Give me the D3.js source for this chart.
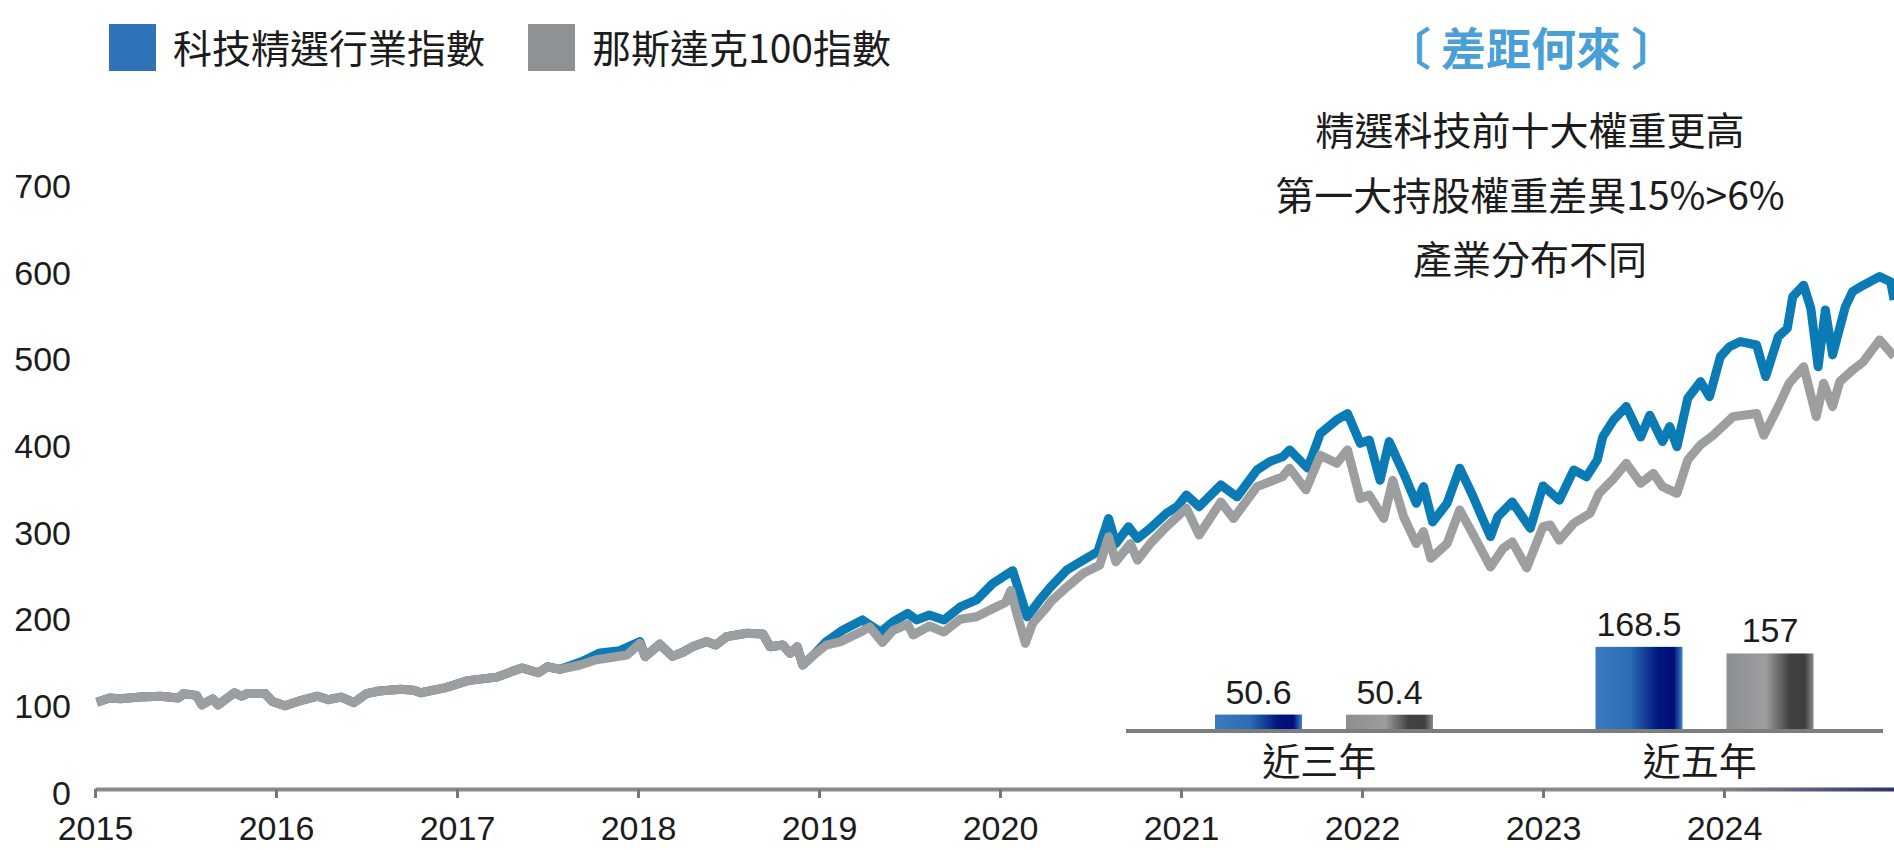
<!DOCTYPE html>
<html>
<head>
<meta charset="utf-8">
<script src="https://cdn.jsdelivr.net/npm/d3@7"></script>
<style>
  body { margin: 0; background: #fff; }
  svg { display: block; }
  text { font-family: "Liberation Sans", Arial, sans-serif; fill: #1c1c1c; }
  .cjk { font-family: "Noto Sans CJK TC", "Noto Sans CJK SC", sans-serif; }
</style>
</head>
<body>
<div id="chart"></div>
<script>
const width = 1894;
const height = 850;
const margin = ({top: 182, right: 0, bottom: 61, left: 95});

// 那斯達克100指數 (gray)
const ndxDates = [2015.01,2015.08,2015.14,2015.25,2015.36,2015.46,2015.49,2015.56,2015.59,2015.65,2015.68,2015.77,2015.81,2015.84,2015.94,2015.98,
  2016.05,2016.12,2016.23,2016.29,2016.36,2016.43,2016.50,2016.57,2016.69,2016.76,2016.80,2016.87,2016.94,
  2017.06,2017.22,2017.31,2017.36,2017.45,2017.50,2017.57,2017.68,2017.77,2017.94,
  2018.01,2018.04,2018.12,2018.19,2018.25,2018.30,2018.38,2018.43,2018.49,2018.60,2018.69,2018.73,2018.80,2018.84,2018.88,2018.91,2018.97,
  2019.04,2019.12,2019.23,2019.28,2019.35,2019.41,2019.49,2019.52,2019.61,2019.69,2019.78,2019.87,2019.96,
  2020.03,2020.06,2020.09,2020.14,2020.18,2020.26,2020.28,2020.37,2020.46,2020.55,2020.60,2020.64,2020.72,2020.76,2020.83,2020.92,
  2021.03,2021.10,2021.22,2021.29,2021.42,2021.56,2021.60,2021.69,2021.77,2021.86,2021.92,2021.99,
  2022.04,2022.12,2022.17,2022.23,2022.30,2022.34,2022.38,2022.47,2022.54,2022.61,2022.71,2022.78,2022.83,2022.91,
  2023.00,2023.04,2023.09,2023.17,2023.26,2023.31,2023.39,2023.46,2023.54,2023.61,2023.66,2023.74,2023.80,2023.87,2023.94,
  2024.05,2024.18,2024.22,2024.30,2024.36,2024.44,2024.51,2024.55,2024.60,2024.64,2024.71,2024.77,2024.86,2024.94];
const ndxValues = [100,105,104,106,107,105,110,108,97,104,97,111,107,110,110,101,
  96,101,107,103,106,99.5,110,113,115,114,111,114,117,
  125,129,136,139.5,134,141,138,143,149,154.5,
  168,152.6,167,153,158,164,170,166,175.7,179.6,178.8,164,166,156.5,164,143,154.5,
  166,170,181,187,169,183,190,177.6,188,181,195.7,198.7,208,
  215,229,204.5,168,191,210,216,233,248.8,258,291,262,283,264,283,302.5,
  323.7,293,331,312,348.7,360,370,345,385,375.6,391,335,
  339,312,356,314,283,296.8,266,283,321.8,295,256,277.6,285,255,
  302.5,304.5,287,306.5,318,341,358,375.6,352.6,364,348.7,341,379.5,396.8,408,
  429.4,433,408,441,468,487,429.4,468,441,469.8,483,492.8,517.9,498.6];

// 科技精選行業指數 (blue)
const techDates = [2015.01,2015.08,2015.14,2015.25,2015.36,2015.46,2015.49,2015.56,2015.59,2015.65,2015.68,2015.77,2015.81,2015.84,2015.94,2015.98,
  2016.05,2016.12,2016.23,2016.29,2016.36,2016.43,2016.50,2016.57,2016.69,2016.76,2016.80,2016.87,2016.94,
  2017.06,2017.22,2017.31,2017.36,2017.45,2017.50,2017.57,2017.69,2017.79,2017.90,
  2018.01,2018.04,2018.12,2018.19,2018.25,2018.30,2018.38,2018.43,2018.49,2018.60,2018.69,2018.73,2018.80,2018.84,2018.88,2018.91,2018.97,
  2019.04,2019.13,2019.24,2019.34,2019.41,2019.49,2019.54,2019.61,2019.69,2019.78,2019.87,2019.96,
  2020.07,2020.15,2020.22,2020.28,2020.37,2020.46,2020.54,2020.60,2020.64,2020.71,2020.76,2020.83,2020.92,2020.98,
  2021.03,2021.10,2021.22,2021.31,2021.42,2021.49,2021.56,2021.60,2021.70,2021.77,2021.86,2021.92,2021.99,
  2022.04,2022.10,2022.15,2022.23,2022.30,2022.34,2022.39,2022.47,2022.54,2022.61,2022.67,2022.71,2022.75,2022.83,2022.93,
  2023.00,2023.09,2023.17,2023.24,2023.30,2023.33,2023.39,2023.46,2023.54,2023.59,2023.66,2023.70,2023.74,2023.80,2023.87,2023.92,2023.98,
  2024.03,2024.09,2024.18,2024.23,2024.30,2024.35,2024.38,2024.44,2024.48,2024.52,2024.56,2024.60,2024.67,2024.71,2024.77,2024.86,2024.92,2024.94];
const techValues = [100,105,104,106,107,105,110,108,97,104,97,111,107,110,110,101,
  96,101,107,103,106,99.5,110,113,115,114,111,114,117,
  125,129,136,139.5,134,141,138,147,157,159.5,
  170,152.6,167,153,158,164,170,166,175.7,179.6,178.8,164,166,156.5,164,143,154.5,
  170,183,195,181,193,202.6,195,200.7,195,210,218,237,
  251.8,198.7,218,233,252.6,264,273.7,312,283,302.5,289,300.7,318,326,
  339,325.6,350.6,337,368,377.5,383,391,370,410,425.6,433,398.7,
  402.5,356,400.6,364,329.5,348.7,308,329.5,370,339,310,291,314,331,300.7,
  349.5,333,368,360,379.5,406,425.6,441,406,431,400.6,418,394.8,450.6,469.8,452.5,498.6,
  510,516,512,475.6,521.7,531.4,567.8,581,554,487,552.5,500.6,556,573.6,581,590.9,585,564];

const years = [2015,2016,2017,2018,2019,2020,2021,2022,2023,2024];
const yTicks = [0,100,200,300,400,500,600,700];

const legendLabels = ["科技精選行業指數", "那斯達克100指數"];
const noteTitle = "〔 差距何來 〕";
const noteLines = ["精選科技前十大權重更高", "第一大持股權重差異15%>6%", "產業分布不同"];

// 累積報酬 inset
const periods = ["近三年", "近五年"];
const techReturns = [50.6, 168.5];
const ndxReturns = [50.4, 157];

const techColor = "#0b7bb6";
const ndxColor = "#9c9ea0";

const svg = d3.select("#chart").append("svg")
  .attr("width", width)
  .attr("height", height);

const defs = svg.append("defs");

const blueGrad = defs.append("linearGradient").attr("id", "blueBar");
[[0, "#3a7cbd"], [0.4, "#2a6db4"], [0.72, "#00167f"], [0.9, "#000d78"], [1, "#3b86c6"]]
  .forEach(s => blueGrad.append("stop").attr("offset", s[0]).attr("stop-color", s[1]));

const grayGrad = defs.append("linearGradient").attr("id", "grayBar");
[[0, "#8c8f91"], [0.45, "#9b9d9f"], [0.72, "#424242"], [0.9, "#3f3f3f"], [1, "#8a8a8a"]]
  .forEach(s => grayGrad.append("stop").attr("offset", s[0]).attr("stop-color", s[1]));

const axisGrad = defs.append("linearGradient").attr("id", "axisGrad")
  .attr("gradientUnits", "userSpaceOnUse")
  .attr("x1", margin.left).attr("x2", width).attr("y1", 0).attr("y2", 0);
[[0, "#8a8a8a"], [0.9, "#8a8a8a"], [1, "#2e3368"]]
  .forEach(s => axisGrad.append("stop").attr("offset", s[0]).attr("stop-color", s[1]));

const x = d3.scaleLinear()
  .domain([2015, 2025])
  .range([margin.left, margin.left + 1810]);

const y = d3.scaleLinear()
  .domain([0, 700])
  .range([height - margin.bottom, margin.top]);

// y labels
const yAxis = svg.append("g")
  .attr("transform", "translate(71,0)")
  .call(d3.axisLeft(y).tickValues(yTicks).tickSize(0).tickPadding(0));
yAxis.select(".domain").remove();
yAxis.selectAll("text")
  .attr("font-size", 34)
  .attr("font-family", "Liberation Sans, Arial, sans-serif")
  .attr("fill", "#1c1c1c")
  .attr("dy", "0.45em");

// lines
const line = d3.line()
  .x(d => x(d[0]))
  .y(d => y(d[1]));

svg.append("path")
  .datum(d3.zip(techDates, techValues))
  .attr("fill", "none")
  .attr("stroke", techColor)
  .attr("stroke-width", 9)
  .attr("stroke-linejoin", "round")
  .attr("d", line);

svg.append("path")
  .datum(d3.zip(ndxDates, ndxValues))
  .attr("fill", "none")
  .attr("stroke", ndxColor)
  .attr("stroke-width", 9)
  .attr("stroke-linejoin", "round")
  .attr("d", line);

// x axis
const xAxis = svg.append("g")
  .attr("transform", `translate(0,${y(0)})`)
  .call(d3.axisBottom(x).tickValues(years).tickFormat(d3.format("d")).tickSize(9).tickSizeOuter(0));
xAxis.select(".domain")
  .attr("stroke", "url(#axisGrad)")
  .attr("stroke-width", 4);
xAxis.selectAll(".tick line")
  .attr("stroke", "#777")
  .attr("stroke-width", 3);
xAxis.selectAll(".tick text")
  .attr("font-size", 34)
  .attr("font-family", "Liberation Sans, Arial, sans-serif")
  .attr("fill", "#1c1c1c")
  .attr("y", 27);

// legend
const legend = svg.append("g");
const legendX = [109, 528];
legendLabels.forEach((label, i) => {
  legend.append("rect")
    .attr("x", legendX[i]).attr("y", 24)
    .attr("width", 47).attr("height", 47)
    .attr("fill", i === 0 ? "#2f74b8" : "#8e9294");
  legend.append("text")
    .attr("class", "cjk")
    .attr("x", legendX[i] + 64).attr("y", 63)
    .attr("font-size", 39)
    .text(label);
});

// note
svg.append("text")
  .attr("class", "cjk")
  .attr("x", 1531).attr("y", 66)
  .attr("text-anchor", "middle")
  .attr("font-size", 45)
  .attr("font-weight", "bold")
  .style("fill", "#4a9fd6")
  .text(noteTitle);

svg.append("g").selectAll("text")
  .data(noteLines)
  .join("text")
  .attr("class", "cjk")
  .attr("x", 1530)
  .attr("y", (d, i) => 145 + i * 64.5)
  .attr("text-anchor", "middle")
  .attr("font-size", 39)
  .text(d => d);

// inset bars
const insetBase = 731;
const gx = d3.scaleBand()
  .domain(periods)
  .range([1134, 1895]);
const sub = d3.scaleBand()
  .domain(["tech", "ndx"])
  .range([81, 299])
  .paddingInner(0.336);
const hy = d3.scaleLinear()
  .domain([22, 170])
  .range([insetBase, insetBase - 85]);

const groups = svg.append("g").selectAll("g")
  .data(periods.map((p, i) => ({p, vals: [["tech", techReturns[i]], ["ndx", ndxReturns[i]]]})))
  .join("g")
  .attr("transform", d => `translate(${gx(d.p)},0)`);

groups.selectAll("rect")
  .data(d => d.vals)
  .join("rect")
  .attr("x", d => sub(d[0]))
  .attr("y", d => hy(d[1]))
  .attr("width", sub.bandwidth())
  .attr("height", d => insetBase - hy(d[1]))
  .attr("fill", d => d[0] === "tech" ? "url(#blueBar)" : "url(#grayBar)");

groups.selectAll("text.val")
  .data(d => d.vals)
  .join("text")
  .attr("class", "val")
  .attr("x", d => sub(d[0]) + sub.bandwidth() / 2)
  .attr("y", d => hy(d[1]) - 11)
  .attr("text-anchor", "middle")
  .attr("font-size", 34)
  .text(d => d[1]);

groups.append("text")
  .attr("class", "cjk")
  .attr("x", gx.bandwidth() / 2 - 5)
  .attr("y", 775)
  .attr("text-anchor", "middle")
  .attr("font-size", 38)
  .text(d => d.p);

svg.append("line")
  .attr("x1", 1126).attr("x2", 1883)
  .attr("y1", insetBase).attr("y2", insetBase)
  .attr("stroke", "#7d7d7d")
  .attr("stroke-width", 4);
</script>
</body>
</html>
